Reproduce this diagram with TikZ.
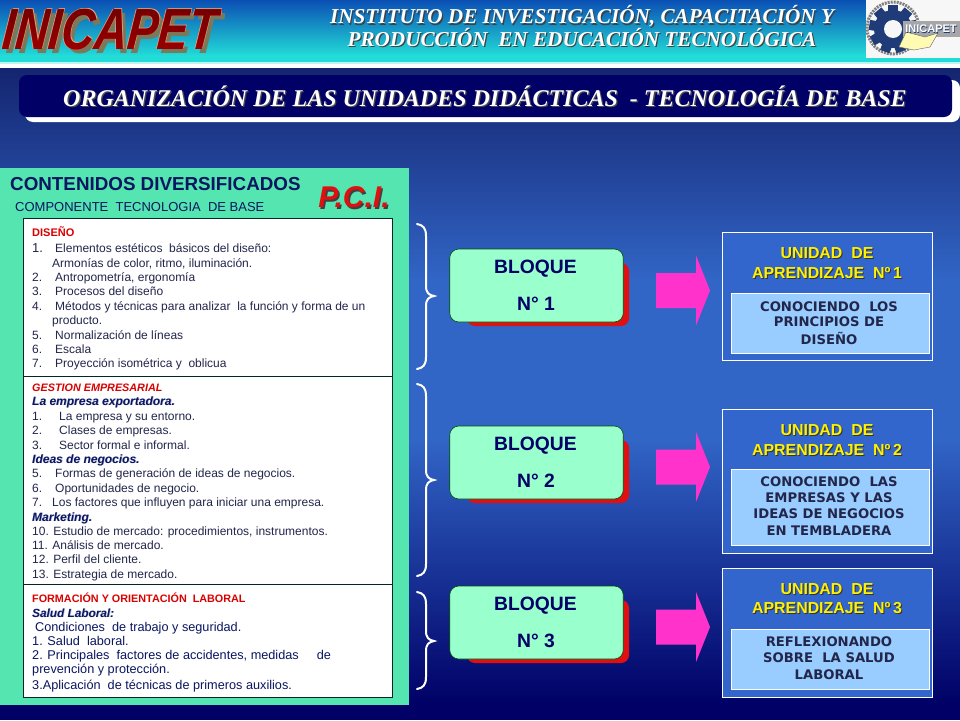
\documentclass[tikz,border=0pt]{standalone}
\usepackage{fontspec}
\setmainfont{Liberation Sans}
\newfontfamily\serifbi{Liberation Serif}[BoldFont=* Bold,ItalicFont=* Italic,BoldItalicFont=* Bold Italic]
\newfontfamily\verd{DejaVu Sans}
\usetikzlibrary{fadings,shapes.arrows}
\definecolor{hdrtop}{HTML}{0B4FB4}
\definecolor{hdrbot}{HTML}{22DCD8}
\definecolor{bgtop}{HTML}{14246F}
\definecolor{bgmid}{HTML}{3165C6}
\definecolor{bgbot}{HTML}{000066}
\definecolor{navy}{HTML}{000066}
\definecolor{panel}{HTML}{55E5B0}
\definecolor{bloq}{HTML}{99FFCC}
\definecolor{redsh}{HTML}{E01010}
\definecolor{mag}{HTML}{FF33CC}
\definecolor{unitfill}{HTML}{3366CC}
\definecolor{innerfill}{HTML}{99CCFF}
\definecolor{listc}{HTML}{22264A}
\definecolor{headn}{HTML}{0A1660}
\definecolor{olive}{HTML}{7A7A5A}
\definecolor{tan}{HTML}{C8A888}
\definecolor{halo}{HTML}{B0B4D8}
\definecolor{gearb}{HTML}{1F3C78}
\newcommand{\fs}[1]{\fontsize{#1}{#1}\selectfont}
% text with an offset copy behind it, inside a single node
\newcommand{\shtxt}[4]{\leavevmode\rlap{\kern#2pt\raisebox{-#3pt}{\textcolor{#1}{#4}}}#4}
\newcommand{\lst}[5][listc]{\node[listline,text=#1] (#2) at (#3,#4+4) {#5};}
\newcommand{\numl}[5]{\node[listline] (#1) at (32,#2+4) {\rlap{#3}\hspace{#4pt}#5};}
\newcommand{\bracepath}[3]{\draw[brace] (417,#1) .. controls (423,#1+1) and (426,#1+4) .. (426,#1+12) -- (426,#2-10) .. controls (426,#2-3) and (429,#2-1) .. (434,#2) .. controls (429,#2+1) and (426,#2+3) .. (426,#2+10) -- (426,#3-12) .. controls (426,#3-4) and (423,#3-1) .. (417,#3);}
\newcommand{\blockarrow}[1]{\fill[mag] (656,#1-17.5) -- (696,#1-17.5) -- (696,#1-35) -- (710,#1) -- (696,#1+35) -- (696,#1+17.5) -- (656,#1+17.5) -- cycle;}
\newcommand{\bloque}[3]{%
  \fill[redsh,rounded corners=8pt] (467,#2+14) rectangle (629,#2+77);
  \node[bloqbox] (#1) at (536.5,#2+36.5) {};
  \node[bloqtxt] (#1a) at (535.5,#2+20) {BLOQUE};
  \node[bloqtxt] (#1b) at (536,#2+55) {#3};}
% wordmark copies painted through a fading: \wmcopy{dx}{dy}{colour}
\newcommand{\wmcopy}[3]{\fill[#3,path fading=inifade,fit fading=false,fading transform={shift={(#1pt,#2pt)}}] (0,0) rectangle (240,60);}
\begin{tikzfadingfrompicture}[name=inifade,x=1pt,y=1pt]
  \node[inner sep=0,text=transparent!0,font=\bfseries\itshape\fs{58},xscale=.79,xslant=.12,transform shape] {INICAPET};
\end{tikzfadingfrompicture}
\tikzset{
  listline/.style={anchor=base west,inner sep=0,font=\fs{12},text=listc},
  brace/.style={draw=white,line width=2pt,line cap=round},
  bloqbox/.style={draw=black!70!green,line width=.6pt,fill=bloq,rounded corners=9pt,minimum width=173.5pt,minimum height=73pt,inner sep=0},
  bloqtxt/.style={inner sep=0,font=\bfseries\fs{19.3},text=navy},
  unitbox/.style={draw=white,line width=1pt,fill=unitfill},
  innerbox/.style={draw=white,line width=1pt,fill=innerfill},
  unittitle/.style={inner sep=0,font=\bfseries\fs{15.9},text=yellow},
  innertxt/.style={inner sep=0,font=\verd\bfseries\fs{13.2},text=listc},
  hdrtxt/.style={inner sep=0,font=\serifbi\bfseries\itshape\fs{21.2},text=white},
}
\begin{document}
\begin{tikzpicture}[x=1pt,y=-1pt]
\useasboundingbox (0,0) rectangle (960,720);
% background
\fill[top color=bgtop,bottom color=bgmid] (0,66) rectangle (960,280);
\fill[bgmid] (0,279) rectangle (960,440);
\fill[top color=bgmid,bottom color=bgbot] (0,439) rectangle (960,705);
\fill[bgbot] (0,704) rectangle (960,720);
% header band
\fill[top color=hdrtop,bottom color=hdrbot] (0,0) rectangle (960,56);
\fill[hdrbot] (0,55) rectangle (960,62);
\fill[white!70!hdrbot] (0,62) rectangle (960,64);
\fill[white] (0,64) rectangle (960,67.5);
% INICAPET wordmark
\wmcopy{114.5}{-34}{olive}
\wmcopy{109.5}{-30}{tan}
\wmcopy{111.5}{-29}{tan}
\node[inner sep=0,font=\bfseries\itshape\fs{58},xscale=.79,xslant=.12,transform shape,text=red] (wm) at (110.5,29.5) {INICAPET};
\shade[path fading=inifade,fit fading=false,fading transform={shift={(110.5pt,-29.5pt)}},top color=black!55!red,middle color=red,bottom color=black!40!red] (0,9) rectangle (230,50);
% header titles
\node[hdrtxt] (hd1) at (582,17) {\shtxt{black!75}{1.2}{1.2}{INSTITUTO DE INVESTIGACIÓN, CAPACITACIÓN Y}};
\node[hdrtxt] (hd2) at (582,38) {\shtxt{black!75}{1.2}{1.2}{PRODUCCIÓN\ \ EN EDUCACIÓN TECNOLÓGICA}};
% logo
\fill[white!94!gray] (866,0) rectangle (960,58);
\draw[gray,line width=3pt,dash pattern=on 2pt off 1pt] (893,28) circle (26);
\fill[gearb] (893,29) circle (19);
\foreach \a in {0,40,...,320} {\fill[gearb,rotate around={\a:(893,29)}] (888,5) rectangle (898,14);}
\fill[white!94!gray] (893,29) circle (9);
\fill[gray!70] (903,21) rectangle (960,37);
\fill[yellow!30!white,draw=black!60] (899,47) -- (906,32) -- (925,37) -- (938,33) -- (930,47) -- (914,50) -- cycle;
\node[inner sep=0,font=\bfseries\fs{11},text=white] (logotxt) at (931,29) {\shtxt{gearb}{.6}{.6}{INICAPET}};
% title bar
\fill[white,rounded corners=8pt] (25,80) rectangle (960,122);
\fill[navy,rounded corners=8pt] (19,75) rectangle (952,117);
\node[inner sep=0,font=\serifbi\bfseries\itshape\fs{24},text=white] (title) at (485,97) {\shtxt{black!70}{1.3}{1.3}{ORGANIZACIÓN DE LAS UNIDADES DIDÁCTICAS\ \ - TECNOLOGÍA DE BASE}};
% left panel
\fill[panel] (0,168) rectangle (409,705);
\node[anchor=base west,inner sep=0,font=\bfseries\fs{18.8},text=headn] (cd) at (10,190.5) {CONTENIDOS DIVERSIFICADOS};
\node[anchor=base west,inner sep=0,font=\fs{13},text=headn] (ct) at (15,211) {COMPONENTE\ \ TECNOLOGIA\ \ DE BASE};
\node[inner sep=0,font=\bfseries\itshape\fs{30},text=redsh] (pci) at (354,198) {\shtxt{black!75}{1.5}{1.5}{P.C.I.}};
\draw[draw=black!70!teal,line width=.8pt,fill=white] (23.5,218.5) rectangle (392.5,697);
\draw[black!70!teal,line width=.8pt] (23.5,376) -- (392.5,376);
\draw[black!70!teal,line width=.8pt] (23.5,584) -- (392.5,584);
% section 1
\lst[red!85!black]{d0}{32}{232}{\bfseries\fs{11}DISEÑO}
\numl{d1}{248}{\fs{13}1.}{23}{Elementos estéticos\ \ básicos del diseño:}
\lst{d1b}{52}{263}{Armonías de color, ritmo, iluminación.}
\numl{d2}{277}{2.}{23}{Antropometría, ergonomía}
\numl{d3}{291}{3.}{23}{Procesos del diseño}
\numl{d4}{306}{4.}{23}{Métodos y técnicas para analizar\ \ la función y forma de un}
\lst{d4b}{52}{320}{producto.}
\numl{d5}{335}{5.}{23}{Normalización de líneas}
\numl{d6}{349}{6.}{23}{Escala}
\numl{d7}{363}{7.}{23}{Proyección isométrica y\ \ oblicua}
% section 2
\lst[red!85!black]{g0}{32}{387}{\bfseries\itshape\fs{10.8}GESTION EMPRESARIAL}
\lst[headn]{g1}{32}{401}{\bfseries\itshape\fs{12}\shtxt{halo}{.7}{.7}{La empresa exportadora.}}
\numl{g2}{416}{1.}{27}{La empresa y su entorno.}
\numl{g3}{430}{2.}{27}{Clases de empresas.}
\numl{g4}{445}{3.}{27}{Sector formal e informal.}
\lst[headn]{g5}{32}{459}{\bfseries\itshape\fs{12}\shtxt{halo}{.7}{.7}{Ideas de negocios.}}
\numl{g6}{473}{5.}{23}{Formas de generación de ideas de negocios.}
\numl{g7}{488}{6.}{23}{Oportunidades de negocio.}
\numl{g8}{502}{7.}{20}{Los factores que influyen para iniciar una empresa.}
\lst[headn]{g9}{32}{517}{\bfseries\itshape\fs{12}\shtxt{halo}{.7}{.7}{Marketing.}}
\lst{g10}{32}{531}{10. Estudio de mercado: procedimientos, instrumentos.}
\lst{g11}{32}{545}{11. Análisis de mercado.}
\lst{g12}{32}{559}{12. Perfil del cliente.}
\lst{g13}{32}{574}{13. Estrategia de mercado.}
% section 3
\lst[red!85!black]{f0}{32}{598}{\bfseries\fs{10.8}FORMACIÓN Y ORIENTACIÓN\ \ LABORAL}
\lst[headn]{f1}{32}{613}{\bfseries\itshape\fs{11.8}\shtxt{halo}{.7}{.7}{Salud Laboral:}}
\lst[headn]{f2}{35}{627}{\fs{12.7}Condiciones\ \ de trabajo y seguridad.}
\lst[headn]{f3}{32}{641}{\fs{12.7}1. Salud\ \ laboral.}
\lst[headn]{f4}{32}{655}{\fs{12.7}2. Principales\ \ factores de accidentes, medidas\hspace{18pt}de}
\lst[headn]{f5}{32}{669}{\fs{12.7}prevención y protección.}
\lst[headn]{f6}{32}{685}{\fs{12.7}3.Aplicación\ \ de técnicas de primeros auxilios.}
% braces
\bracepath{224}{296}{369}
\bracepath{384}{480}{576}
\bracepath{592}{641}{689}
% blocks
\bloque{b1}{249}{N° 1}
\bloque{b2}{426}{N° 2}
\bloque{b3}{586}{N° 3}
% arrows
\blockarrow{290.5}
\blockarrow{467}
\blockarrow{627}
% units
\draw[unitbox] (722.5,232.5) rectangle (932,360);
\draw[innerbox] (731,293) rectangle (929,353);
\node[unittitle] (u1a) at (827,254) {\shtxt{black!80}{1}{1}{UNIDAD\ \ DE}};
\node[unittitle] (u1b) at (827,274) {\shtxt{black!80}{1}{1}{APRENDIZAJE\ \ Nº\,1}};
\node[innertxt] (i1a) at (829,307) {CONOCIENDO\ \ LOS};
\node[innertxt] (i1b) at (829,322) {PRINCIPIOS DE};
\node[innertxt] (i1c) at (829,338) {DISEÑO};
\draw[unitbox] (722.5,409.5) rectangle (932,553);
\draw[innerbox] (731,469) rectangle (929,545);
\node[unittitle] (u2a) at (827,431) {\shtxt{black!80}{1}{1}{UNIDAD\ \ DE}};
\node[unittitle] (u2b) at (827,451) {\shtxt{black!80}{1}{1}{APRENDIZAJE\ \ Nº\,2}};
\node[innertxt] (i2a) at (829,482) {CONOCIENDO\ \ LAS};
\node[innertxt] (i2b) at (829,498) {EMPRESAS Y LAS};
\node[innertxt] (i2c) at (829,514) {IDEAS DE NEGOCIOS};
\node[innertxt] (i2d) at (829,531) {EN TEMBLADERA};
\draw[unitbox] (722.5,568.5) rectangle (932,697);
\draw[innerbox] (731,629) rectangle (929,689);
\node[unittitle] (u3a) at (827,590) {\shtxt{black!80}{1}{1}{UNIDAD\ \ DE}};
\node[unittitle] (u3b) at (827,609) {\shtxt{black!80}{1}{1}{APRENDIZAJE\ \ Nº\,3}};
\node[innertxt] (i3a) at (829,642) {REFLEXIONANDO};
\node[innertxt] (i3b) at (829,658) {SOBRE\ \ LA SALUD};
\node[innertxt] (i3c) at (829,675) {LABORAL};
\end{tikzpicture}
\end{document}
